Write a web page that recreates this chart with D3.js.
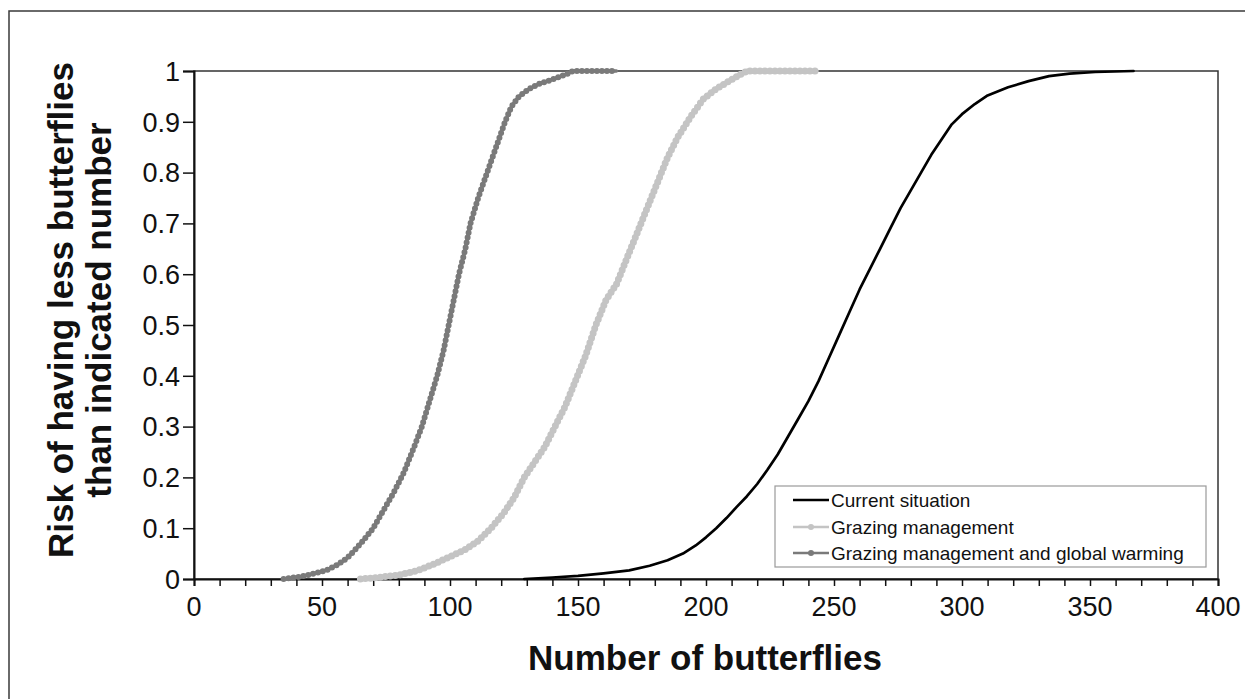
<!DOCTYPE html>
<html>
<head>
<meta charset="utf-8">
<script src="https://cdn.jsdelivr.net/npm/d3@7/dist/d3.min.js"></script>
<style>
  html, body { margin: 0; padding: 0; background: #ffffff; }
  svg { display: block; font-family: "Liberation Sans", Arial, sans-serif; }
</style>
</head>
<body>
<svg id="chart" width="1245" height="699"></svg>
<script>
// Cumulative risk curves: number of butterflies (x) vs. probability of having fewer (y)
const seriesNames = ["Current situation", "Grazing management", "Grazing management and global warming"];

const currentN = [129, 140, 150, 160, 170, 178, 185, 191, 196, 200, 204, 208, 212, 216, 220, 224, 228, 232, 236, 240, 244, 248, 252, 256, 260, 264, 268, 272, 276, 280, 284, 288, 292, 296, 300, 305, 310, 318, 326, 334, 342, 352, 367];
const currentRisk = [0, 0.003, 0.006, 0.011, 0.017, 0.026, 0.037, 0.05, 0.066, 0.082, 0.1, 0.12, 0.142, 0.163, 0.187, 0.215, 0.245, 0.28, 0.315, 0.35, 0.39, 0.435, 0.48, 0.525, 0.57, 0.61, 0.65, 0.69, 0.73, 0.765, 0.8, 0.835, 0.865, 0.895, 0.915, 0.935, 0.952, 0.968, 0.98, 0.99, 0.995, 0.998, 1];

const grazingN = [65, 72, 80, 87, 94, 100, 106, 111, 116, 121, 125, 129, 133, 137, 141, 145, 149, 153, 157, 161, 165, 169, 173, 177, 181, 185, 189, 194, 199, 204, 209, 213, 216, 225, 235, 243];
const grazingRisk = [0, 0.003, 0.008, 0.016, 0.03, 0.044, 0.058, 0.075, 0.1, 0.13, 0.16, 0.2, 0.23, 0.26, 0.3, 0.34, 0.39, 0.44, 0.5, 0.55, 0.58, 0.63, 0.68, 0.73, 0.78, 0.83, 0.87, 0.91, 0.945, 0.965, 0.98, 0.992, 1, 1, 1, 1];

const warmingN = [35, 42, 48, 52, 56, 60, 63, 66, 70, 74, 78, 82, 86, 89, 92, 95, 97.5, 99.5, 101.5, 103.5, 106, 108, 111, 114.5, 118, 121.5, 124, 127, 131, 135, 141, 146, 148, 155, 165];
const warmingRisk = [0, 0.005, 0.012, 0.018, 0.028, 0.042, 0.058, 0.075, 0.1, 0.135, 0.17, 0.21, 0.26, 0.3, 0.35, 0.4, 0.45, 0.5, 0.55, 0.6, 0.65, 0.7, 0.75, 0.8, 0.85, 0.9, 0.93, 0.95, 0.965, 0.975, 0.985, 0.995, 1, 1, 1];

const xTickValues = [0, 50, 100, 150, 200, 250, 300, 350, 400];
const yTickValues = [0, 0.1, 0.2, 0.3, 0.4, 0.5, 0.6, 0.7, 0.8, 0.9, 1];
const xTitle = "Number of butterflies";
const yTitleLines = ["Risk of having less butterflies", "than indicated number"];

const svg = d3.select("#chart");

// outer figure frame (only top and left edges fall inside the page)
svg.append("rect")
  .attr("x", 9).attr("y", 11).attr("width", 1300).attr("height", 760)
  .attr("fill", "none").attr("stroke", "#3a3a3a").attr("stroke-width", 1.5);

const plot = { left: 194, right: 1218, top: 71, bottom: 579 };
const x = d3.scaleLinear().domain([0, 400]).range([plot.left, plot.right]);
const y = d3.scaleLinear().domain([0, 1]).range([plot.bottom, plot.top]);

// plot area border
svg.append("rect")
  .attr("x", plot.left).attr("y", plot.top)
  .attr("width", plot.right - plot.left).attr("height", plot.bottom - plot.top)
  .attr("fill", "none").attr("stroke", "#333").attr("stroke-width", 1.5);

// x axis: minor ticks every 10, labels every 50
const xAxis = d3.axisBottom(x).tickValues(d3.range(0, 401, 10)).tickSize(7).tickFormat("");
const gx = svg.append("g").attr("transform", `translate(0,${plot.bottom})`).call(xAxis);
gx.select(".domain").attr("stroke", "#111").attr("stroke-width", 2);
gx.selectAll(".tick line").attr("stroke", "#111").attr("stroke-width", 1.5);

svg.append("g").selectAll("text").data(xTickValues).join("text")
  .attr("x", d => x(d)).attr("y", 616)
  .attr("text-anchor", "middle").attr("font-size", 27).attr("fill", "#111")
  .text(d => d);

// y axis
const yAxis = d3.axisLeft(y).tickValues(yTickValues).tickSize(11).tickFormat("");
const gy = svg.append("g").attr("transform", `translate(${plot.left},0)`).call(yAxis);
gy.select(".domain").attr("stroke", "#111").attr("stroke-width", 2);
gy.selectAll(".tick line").attr("stroke", "#111").attr("stroke-width", 1.5);

svg.append("g").selectAll("text").data(yTickValues).join("text")
  .attr("x", 180).attr("y", d => y(d) + 9.7)
  .attr("text-anchor", "end").attr("font-size", 27).attr("fill", "#111")
  .text(d => d3.format("~g")(d));

// titles
svg.append("text")
  .attr("x", 705).attr("y", 670)
  .attr("text-anchor", "middle").attr("font-size", 35).attr("font-weight", "bold").attr("fill", "#111")
  .text(xTitle);

const yTitleBase = [73, 111];
yTitleLines.forEach((line, i) => {
  svg.append("text")
    .attr("transform", `translate(${yTitleBase[i]},310) rotate(-90)`)
    .attr("text-anchor", "middle").attr("font-size", 35).attr("font-weight", "bold").attr("fill", "#111")
    .text(line);
});

// curves
const line = d3.line().x(d => x(d[0])).y(d => y(d[1]));
const zipSeries = (ns, rs) => ns.map((n, i) => [n, rs[i]]);

const series = [
  { name: seriesNames[0], pts: zipSeries(currentN, currentRisk), color: "#000000", width: 2.7, marker: 0 },
  { name: seriesNames[1], pts: zipSeries(grazingN, grazingRisk), color: "#c4c4c4", width: 4.8, marker: 7 },
  { name: seriesNames[2], pts: zipSeries(warmingN, warmingRisk), color: "#7a7a7a", width: 3.4, marker: 6 }
];

const curves = svg.append("g");
series.forEach(s => {
  curves.append("path").datum(s.pts)
    .attr("d", line).attr("fill", "none")
    .attr("stroke", s.color).attr("stroke-width", s.width)
    .attr("stroke-linejoin", "round").attr("stroke-linecap", "round");
  if (s.marker) {
    // closely spaced round markers along the curve
    curves.append("path").datum(s.pts)
      .attr("d", line).attr("fill", "none")
      .attr("stroke", s.color).attr("stroke-width", s.marker)
      .attr("stroke-linecap", "round").attr("stroke-dasharray", "0 5");
  }
});

// legend
const lg = svg.append("g");
lg.append("rect")
  .attr("x", 775).attr("y", 486).attr("width", 431).attr("height", 81)
  .attr("fill", "#fff").attr("stroke", "#9a9a9a").attr("stroke-width", 1.2);
const rowsY = [500, 527, 553];
series.forEach((s, i) => {
  const yy = rowsY[i];
  lg.append("line").attr("x1", 793).attr("x2", 829).attr("y1", yy).attr("y2", yy)
    .attr("stroke", s.color).attr("stroke-width", s.marker ? 2.4 : 2.7);
  if (s.marker) {
    lg.append("circle").attr("cx", 811).attr("cy", yy).attr("r", 3).attr("fill", s.color);
  }
  lg.append("text").attr("x", 831).attr("y", yy + 6.8)
    .attr("font-size", 19).attr("fill", "#111").text(s.name);
});
</script>
</body>
</html>
